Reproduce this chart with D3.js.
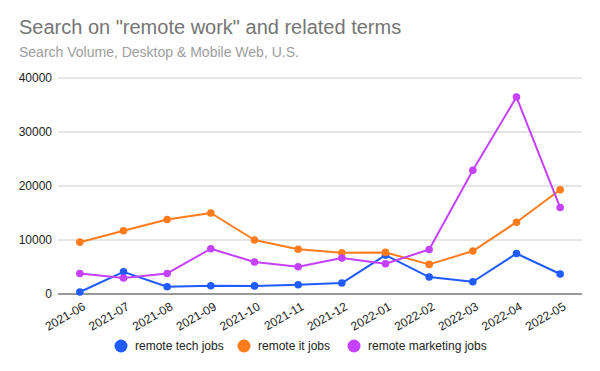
<!DOCTYPE html>
<html>
<head>
<meta charset="utf-8">
<script src="https://cdn.jsdelivr.net/npm/d3@7"></script>
<style>
  body { margin: 0; background: #fff; }
  svg { font-family: Arial, "Liberation Sans", sans-serif; }
</style>
</head>
<body>
<script>
var months = ["2021-06", "2021-07", "2021-08", "2021-09", "2021-10", "2021-11",
              "2021-12", "2022-01", "2022-02", "2022-03", "2022-04", "2022-05"];
var techJobs = [370, 4100, 1350, 1530, 1500, 1720, 2030, 7200, 3140, 2270, 7500, 3700];
var itJobs = [9600, 11700, 13800, 15000, 10000, 8300, 7640, 7700, 5480, 7950, 13300, 19300];
var marketingJobs = [3800, 2950, 3800, 8380, 5920, 5050, 6650, 5600, 8250, 22930, 36480, 16010];
var seriesNames = ["remote tech jobs", "remote it jobs", "remote marketing jobs"];
var yTicks = [0, 10000, 20000, 30000, 40000];

var colors = ["#1f5bff", "#ff7b1c", "#c441ff"];
var series = [techJobs, itJobs, marketingJobs];

var width = 600, height = 371;
var margin = {top: 78, right: 18, bottom: 77, left: 58};

var svg = d3.select("body").append("svg")
    .attr("width", width)
    .attr("height", height);

svg.append("text")
    .attr("x", 19).attr("y", 34)
    .attr("font-size", "20px")
    .attr("fill", "#757575")
    .text('Search on "remote work" and related terms');
svg.append("text")
    .attr("x", 19).attr("y", 57)
    .attr("font-size", "14px")
    .attr("fill", "#9e9e9e")
    .text("Search Volume, Desktop & Mobile Web, U.S.");

var x = d3.scalePoint()
    .domain(months)
    .range([margin.left, width - margin.right])
    .padding(0.5);
var y = d3.scaleLinear()
    .domain([0, 40000])
    .range([height - margin.bottom, margin.top]);

// gridlines
svg.append("g")
  .selectAll("line")
  .data(yTicks.slice(1))
  .enter().append("line")
    .attr("x1", margin.left).attr("x2", width - margin.right)
    .attr("y1", function(d) { return y(d); })
    .attr("y2", function(d) { return y(d); })
    .attr("stroke", "#cccccc")
    .attr("stroke-width", 1);

// y axis labels
var yAxis = svg.append("g")
    .attr("transform", "translate(" + margin.left + ",0)")
    .call(d3.axisLeft(y).tickValues(yTicks).tickSize(0).tickPadding(6).tickFormat(d3.format("d")));
yAxis.select(".domain").remove();
yAxis.selectAll("text").attr("font-size", "12px").attr("fill", "#222").attr("font-family", null);

// x axis
var xAxis = svg.append("g")
    .attr("transform", "translate(0," + y(0) + ")")
    .call(d3.axisBottom(x).tickSize(0).tickPadding(0));
xAxis.select(".domain").remove();
xAxis.selectAll("text")
    .attr("font-size", "12px")
    .attr("fill", "#222")
    .attr("font-family", null)
    .attr("text-anchor", "end")
    .attr("dy", null)
    .attr("y", 0)
    .attr("transform", "translate(6,15) rotate(-30)");

svg.append("line")
    .attr("x1", margin.left).attr("x2", width - margin.right)
    .attr("y1", y(0)).attr("y2", y(0))
    .attr("stroke", "#333")
    .attr("stroke-width", 1);

var line = d3.line()
    .x(function(d, i) { return x(months[i]); })
    .y(function(d) { return y(d); });

series.forEach(function(s, k) {
  svg.append("path")
      .datum(s)
      .attr("fill", "none")
      .attr("stroke", colors[k])
      .attr("stroke-width", 2)
      .attr("stroke-linejoin", "round")
      .attr("d", line);
  svg.append("g")
    .selectAll("circle")
    .data(s)
    .enter().append("circle")
      .attr("cx", function(d, i) { return x(months[i]); })
      .attr("cy", function(d) { return y(d); })
      .attr("r", 3.8)
      .attr("fill", colors[k]);
});

// legend
var legendX = [121, 244, 354];
var legend = svg.append("g");
seriesNames.forEach(function(name, k) {
  legend.append("circle")
      .attr("cx", legendX[k]).attr("cy", 346)
      .attr("r", 6.5)
      .attr("fill", colors[k]);
  legend.append("text")
      .attr("x", legendX[k] + 14).attr("y", 350)
      .attr("font-size", "12px")
      .attr("fill", "#222")
      .text(name);
});
</script>
</body>
</html>
